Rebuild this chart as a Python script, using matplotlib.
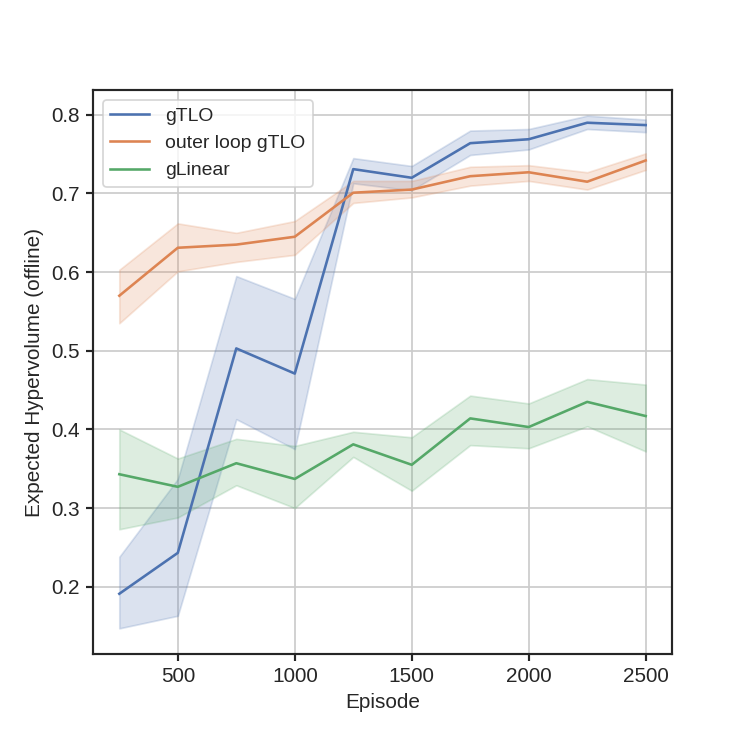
import matplotlib
matplotlib.use("Agg")
import matplotlib.pyplot as plt

# episodes at which the policies were evaluated
episodes = [250, 500, 750, 1000, 1250, 1500, 1750, 2000, 2250, 2500]

# gTLO: mean and confidence band
gtlo_mean = [0.191, 0.243, 0.503, 0.471, 0.731, 0.720, 0.764, 0.769, 0.790, 0.787]
gtlo_low = [0.147, 0.163, 0.413, 0.375, 0.713, 0.704, 0.749, 0.756, 0.782, 0.778]
gtlo_high = [0.238, 0.337, 0.595, 0.566, 0.745, 0.735, 0.780, 0.782, 0.799, 0.794]

# outer loop gTLO
outer_mean = [0.570, 0.631, 0.635, 0.645, 0.701, 0.705, 0.722, 0.727, 0.715, 0.742]
outer_low = [0.535, 0.601, 0.613, 0.622, 0.688, 0.695, 0.710, 0.716, 0.705, 0.730]
outer_high = [0.603, 0.662, 0.650, 0.665, 0.716, 0.716, 0.734, 0.736, 0.727, 0.751]

# gLinear
lin_mean = [0.343, 0.327, 0.357, 0.337, 0.381, 0.355, 0.414, 0.403, 0.435, 0.417]
lin_low = [0.273, 0.288, 0.329, 0.300, 0.365, 0.322, 0.380, 0.376, 0.404, 0.372]
lin_high = [0.400, 0.363, 0.388, 0.379, 0.397, 0.390, 0.443, 0.433, 0.464, 0.457]

plt.rcParams['font.family'] = ['Liberation Sans', 'DejaVu Sans']
plt.rcParams['text.color'] = '#262626'
plt.rcParams['axes.labelcolor'] = '#262626'
plt.rcParams['xtick.color'] = '#262626'
plt.rcParams['ytick.color'] = '#262626'

fig = plt.figure(figsize=(6, 6), dpi=124.5)
ax = fig.add_axes([0.1245, 0.1245, 0.7751, 0.755])

series = [
    ("gTLO", gtlo_mean, gtlo_low, gtlo_high, '#4C72B0'),
    ("outer loop gTLO", outer_mean, outer_low, outer_high, '#DD8452'),
    ("gLinear", lin_mean, lin_low, lin_high, '#55A868'),
]
for name, mean, low, high, color in series:
    ax.plot(episodes, mean, color=color, linewidth=1.5, label=name, zorder=3)
    ax.fill_between(episodes, low, high, color=color, alpha=0.2, linewidth=1, zorder=2)

ax.set_xticks([500, 1000, 1500, 2000, 2500])
ax.set_yticks([0.2, 0.3, 0.4, 0.5, 0.6, 0.7, 0.8])
ax.set_xlabel('Episode', fontsize=12)
ax.set_ylabel('Expected Hypervolume (offline)', fontsize=12)
ax.tick_params(labelsize=12, length=4, width=1.25)
ax.grid(color='#cccccc', linewidth=1)
ax.set_axisbelow(True)
for s in ax.spines.values():
    s.set_linewidth(1.25)
    s.set_color('#262626')

ax.legend(loc='upper left', fontsize=11.2, edgecolor='#cccccc')

fig.savefig('out.png', dpi=124.5)
